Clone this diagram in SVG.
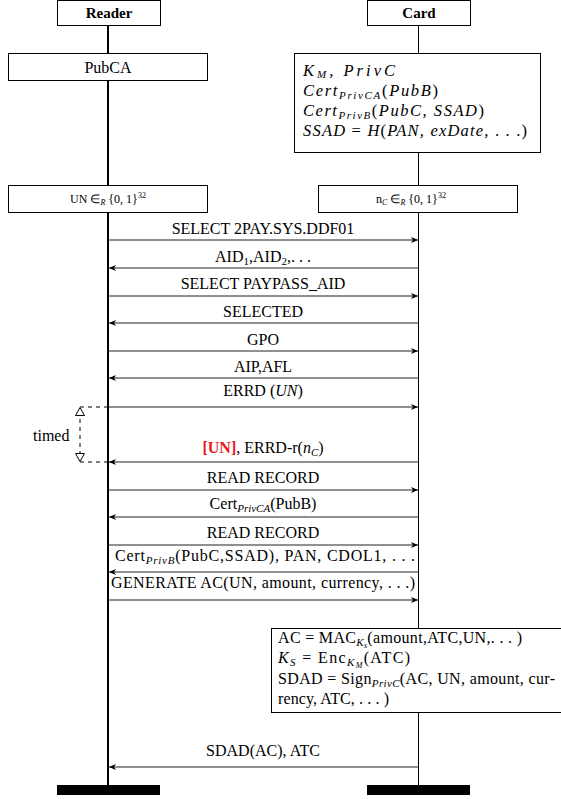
<svg xmlns="http://www.w3.org/2000/svg" width="561" height="799" viewBox="0 0 561 799">
<style>
text{font-family:"Liberation Serif","Times New Roman",serif;fill:#000}
.msg{font-size:16px;text-anchor:middle}
.box{fill:#fff;stroke:#000;stroke-width:1}
.it{font-style:italic}
.arr{stroke:#222;stroke-width:1.2;fill:none}
.dash{stroke:#000;stroke-width:1;stroke-dasharray:4,4;fill:none}
</style>
<defs>
<marker id="ah" markerUnits="userSpaceOnUse" markerWidth="8" markerHeight="8" refX="7" refY="3" orient="auto">
<path d="M0,0 L7,3 L0,6 L2,3 Z" fill="#000"/>
</marker>
</defs>

<g id="lifelines">
<line x1="108" y1="26" x2="108" y2="786" stroke="#000" stroke-width="2"/>
<line x1="418.5" y1="26" x2="418.5" y2="786" stroke="#000" stroke-width="1"/>
</g>

<g id="reader">
<rect class="box" x="57.5" y="0.5" width="103" height="25"/>
<text x="109" y="18" font-size="15" font-weight="bold" text-anchor="middle">Reader</text>
</g>
<g id="card">
<rect class="box" x="367.5" y="0.5" width="103" height="25"/>
<text x="419" y="18" font-size="15" font-weight="bold" text-anchor="middle">Card</text>
</g>

<g id="pubca">
<rect class="box" x="8.5" y="53.5" width="199" height="27"/>
<text x="108" y="73" font-size="16" text-anchor="middle">PubCA</text>
</g>

<g id="cardkeys">
<rect class="box" x="294.5" y="53.5" width="246" height="99"/>
<text x="303" y="76" font-size="16.5" class="it" textLength="92">K<tspan font-size="11" dy="2">M</tspan><tspan dy="-2">, PrivC</tspan></text>
<text x="303" y="96" font-size="16.5" class="it" textLength="135">Cert<tspan font-size="11" dy="2.5">PrivCA</tspan><tspan dy="-2.5" font-style="normal">(</tspan>PubB<tspan font-style="normal">)</tspan></text>
<text x="303" y="116" font-size="16.5" class="it" textLength="181">Cert<tspan font-size="11" dy="2.5">PrivB</tspan><tspan dy="-2.5" font-style="normal">(</tspan>PubC, SSAD<tspan font-style="normal">)</tspan></text>
<text x="303" y="136" font-size="16.5" class="it" textLength="224">SSAD <tspan font-style="normal">=</tspan> H<tspan font-style="normal">(</tspan>PAN, exDate, <tspan font-style="normal">. . .)</tspan></text>
</g>

<g id="un">
<rect class="box" x="8.5" y="185.5" width="199" height="27"/>
<text x="108" y="203" font-size="12" text-anchor="middle">UN ∈<tspan font-size="8" dy="2" font-style="italic">R</tspan><tspan dy="-2"> {0, 1}</tspan><tspan font-size="8" dy="-5">32</tspan></text>
</g>
<g id="nc">
<rect class="box" x="318.5" y="185.5" width="199" height="27"/>
<text x="411" y="203" font-size="12" text-anchor="middle">n<tspan font-size="8" dy="2" font-style="italic">C</tspan><tspan dy="-2"> ∈</tspan><tspan font-size="8" dy="2" font-style="italic">R</tspan><tspan dy="-2"> {0, 1}</tspan><tspan font-size="8" dy="-5">32</tspan></text>
</g>

<g id="connectors">
<line class="arr" x1="109" y1="240" x2="418" y2="240" marker-end="url(#ah)"/>
<line class="arr" x1="418" y1="268" x2="109" y2="268" marker-end="url(#ah)"/>
<line class="arr" x1="109" y1="296" x2="418" y2="296" marker-end="url(#ah)"/>
<line class="arr" x1="418" y1="323" x2="109" y2="323" marker-end="url(#ah)"/>
<line class="arr" x1="109" y1="351" x2="418" y2="351" marker-end="url(#ah)"/>
<line class="arr" x1="418" y1="378" x2="109" y2="378" marker-end="url(#ah)"/>
<line class="arr" x1="109" y1="407" x2="418" y2="407" marker-end="url(#ah)"/>
<line class="arr" x1="418" y1="462" x2="109" y2="462" marker-end="url(#ah)"/>
<line class="arr" x1="109" y1="490" x2="418" y2="490" marker-end="url(#ah)"/>
<line class="arr" x1="418" y1="517" x2="109" y2="517" marker-end="url(#ah)"/>
<line class="arr" x1="109" y1="545" x2="418" y2="545" marker-end="url(#ah)"/>
<line class="arr" x1="418" y1="572" x2="109" y2="572" marker-end="url(#ah)"/>
<line class="arr" x1="109" y1="600" x2="418" y2="600" marker-end="url(#ah)"/>
<line class="arr" x1="418" y1="767" x2="109" y2="767" marker-end="url(#ah)"/>
</g>

<g id="labels">
<text class="msg" x="263" y="234">SELECT 2PAY.SYS.DDF01</text>
<text class="msg" x="263" y="262">AID<tspan font-size="11" dy="3">1</tspan><tspan dy="-3">,AID</tspan><tspan font-size="11" dy="3">2</tspan><tspan dy="-3">,. . .</tspan></text>
<text class="msg" x="263" y="289">SELECT PAYPASS_AID</text>
<text class="msg" x="263" y="317">SELECTED</text>
<text class="msg" x="263" y="345">GPO</text>
<text class="msg" x="263" y="372">AIP,AFL</text>
<text class="msg" x="263" y="396">ERRD (<tspan class="it">UN</tspan>)</text>
<text class="msg" x="263" y="453"><tspan fill="#e8191f" font-weight="bold">[UN]</tspan>, ERRD-r(<tspan class="it">n</tspan><tspan class="it" font-size="11" dy="3">C</tspan><tspan dy="-3">)</tspan></text>
<text class="msg" x="263" y="483">READ RECORD</text>
<text class="msg" x="263" y="509">Cert<tspan class="it" font-size="11" dy="3">PrivCA</tspan><tspan dy="-3">(PubB)</tspan></text>
<text class="msg" x="263" y="538">READ RECORD</text>
<text class="msg" x="265" y="561" textLength="300">Cert<tspan class="it" font-size="11" dy="3">PrivB</tspan><tspan dy="-3">(PubC,SSAD), PAN, CDOL1, . . .</tspan></text>
<text class="msg" x="263" y="588" textLength="304">GENERATE AC(UN, amount, currency, . . .)</text>
<text class="msg" x="263" y="756">SDAD(AC), ATC</text>
</g>

<g id="timed">
<line class="dash" x1="80" y1="407" x2="108" y2="407"/>
<line class="dash" x1="80" y1="462" x2="108" y2="462"/>
<line class="dash" x1="80" y1="455" x2="80" y2="416"/>
<path d="M80,407.5 L84.5,415.5 L75.5,415.5 Z" fill="#fff" stroke="#000" stroke-width="1"/>
<path d="M80,461.5 L84.5,453.5 L75.5,453.5 Z" fill="#fff" stroke="#000" stroke-width="1"/>
<text x="33" y="441" font-size="16">timed</text>
</g>

<g id="compute">
<rect class="box" x="271.5" y="628.5" width="293" height="84"/>
<text x="278" y="643" font-size="16" textLength="244">AC = MAC<tspan class="it" font-size="11" dy="3">K<tspan font-size="8" dy="2">s</tspan></tspan><tspan dy="-5">(amount,ATC,UN,. . . )</tspan></text>
<text x="278" y="663" font-size="16" textLength="132"><tspan class="it">K</tspan><tspan class="it" font-size="11" dy="3">S</tspan><tspan dy="-3"> = Enc</tspan><tspan class="it" font-size="11" dy="3">K<tspan font-size="8" dy="2">M</tspan></tspan><tspan dy="-5">(ATC)</tspan></text>
<text x="278" y="684" font-size="16" textLength="277">SDAD = Sign<tspan class="it" font-size="11" dy="3">PrivC</tspan><tspan dy="-3">(AC, UN, amount, cur-</tspan></text>
<text x="278" y="704" font-size="16" textLength="111">rency, ATC, . . . )</text>
</g>

<g id="ends">
<rect x="57" y="785" width="103" height="10" fill="#000"/>
<rect x="367" y="785" width="103" height="10" fill="#000"/>
</g>
</svg>
